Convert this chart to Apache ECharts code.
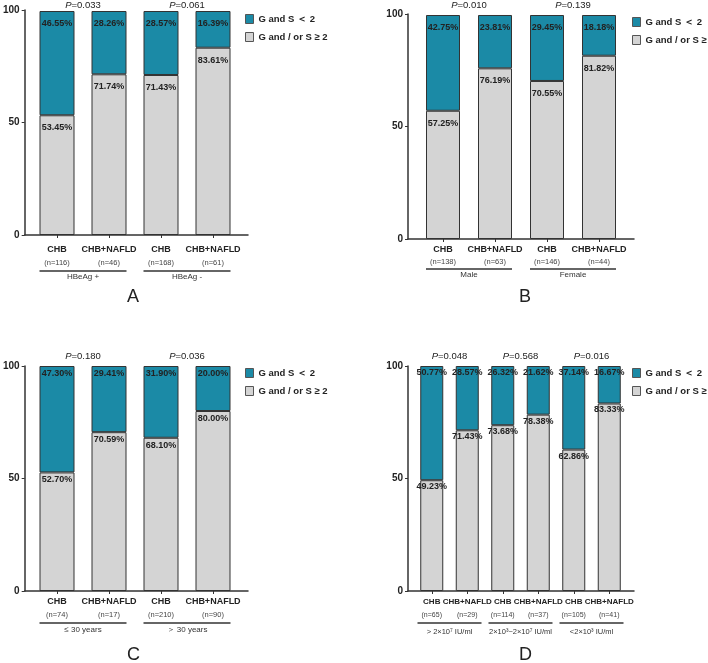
<!DOCTYPE html>
<html>
<head>
<meta charset="utf-8">
<script src="https://cdn.jsdelivr.net/npm/echarts@6/dist/echarts.min.js"></script>
<style>
  * { margin: 0; padding: 0; }
  body { background: #fff; }
</style>
</head>
<body>
<div id="main" style="width: 708px;height: 663px;"></div>
<script>
const tealName = "G and S ＜ 2";
const grayName = "G and / or S ≥ 2";

// A: HBeAg
const catsA = ["CHB", "CHB+NAFLD", "CHB", "CHB+NAFLD"];
const nA = ["(n=116)", "(n=46)", "(n=168)", "(n=61)"];
const lowA = [46.55, 28.26, 28.57, 16.39];
const highA = [53.45, 71.74, 71.43, 83.61];
const groupsA = ["HBeAg +", "HBeAg -"];
const pA = ["0.033", "0.061"];

// B: sex
const catsB = ["CHB", "CHB+NAFLD", "CHB", "CHB+NAFLD"];
const nB = ["(n=138)", "(n=63)", "(n=146)", "(n=44)"];
const lowB = [42.75, 23.81, 29.45, 18.18];
const highB = [57.25, 76.19, 70.55, 81.82];
const groupsB = ["Male", "Female"];
const pB = ["0.010", "0.139"];

// C: age
const catsC = ["CHB", "CHB+NAFLD", "CHB", "CHB+NAFLD"];
const nC = ["(n=74)", "(n=17)", "(n=210)", "(n=90)"];
const lowC = [47.30, 29.41, 31.90, 20.00];
const highC = [52.70, 70.59, 68.10, 80.00];
const groupsC = ["≤ 30 years", "＞ 30 years"];
const pC = ["0.180", "0.036"];

// D: HBV DNA
const catsD = ["CHB", "CHB+NAFLD", "CHB", "CHB+NAFLD", "CHB", "CHB+NAFLD"];
const nD = ["(n=65)", "(n=29)", "(n=114)", "(n=37)", "(n=105)", "(n=41)"];
const lowD = [50.77, 28.57, 26.32, 21.62, 37.14, 16.67];
const highD = [49.23, 71.43, 73.68, 78.38, 62.86, 83.33];
const groupsD = ["> 2×10⁷ IU/ml", "2×10³~2×10⁷ IU/ml", "<2×10³ IU/ml"];
const pD = ["0.048", "0.568", "0.016"];

const panels = [
  { cats: catsA, n: nA, low: lowA, high: highA, groups: groupsA, p: pA, letter: "A" },
  { cats: catsB, n: nB, low: lowB, high: highB, groups: groupsB, p: pB, letter: "B" },
  { cats: catsC, n: nC, low: lowC, high: highC, groups: groupsC, p: pC, letter: "C" },
  { cats: catsD, n: nD, low: lowD, high: highD, groups: groupsD, p: pD, letter: "D" }
];

// placement of each panel
const layouts = [
  { x: 22, y: 10, bx: 31, bw: 208, barW: 35, cFont: 9, nFont: 7.5, gFont: 8, m: 9, l2: 14, dU: 35, l3: 10, uW: 87, pM: 1, dist: 8, legX: 245, legY: 14, letX: 127, letY: 288 },
  { x: 408, y: 14, bx: 417, bw: 208, barW: 34, cFont: 9, nFont: 7.5, gFont: 8, m: 5, l2: 12, dU: 29, l3: 10, uW: 86, pM: 5, dist: 8, legX: 632, legY: 17, letX: 519, letY: 288 },
  { x: 22, y: 366, bx: 31, bw: 208, barW: 35, cFont: 9, nFont: 7.5, gFont: 8, m: 5, l2: 14, dU: 31, l3: 12, uW: 87, pM: 5, dist: 3, legX: 245, legY: 368, letX: 127, letY: 646 },
  { x: 408, y: 366, bx: 414, bw: 213, barW: 23, cFont: 8, nFont: 7, gFont: 7.5, m: 5, l2: 14, dU: 31, l3: 16, uW: 64, pM: 5, dist: 2, legX: 632, legY: 368, letX: 519, letY: 646 }
];

const teal = "#1b8aa6";
const gray = "#d4d4d4";
const axisColor = "#333";

let grid = [], xAxis = [], yAxis = [], series = [], legend = [], title = [];

panels.forEach(function(pd, k) {
  const L = layouts[k];
  // frame grid (axis lines), bar grid (bars and labels)
  grid.push({ left: L.x, top: L.y, width: 226, height: 225 });
  grid.push({ left: L.bx, top: L.y, width: L.bw, height: 225 });

  xAxis.push({
    gridIndex: 2 * k, type: "value", min: 0, max: 1,
    axisLine: { show: true, onZero: false, lineStyle: { color: axisColor, width: 1.5 } },
    axisTick: { show: false }, axisLabel: { show: false }, splitLine: { show: false }
  });
  xAxis.push({
    gridIndex: 2 * k + 1, type: "category", data: pd.cats,
    axisLine: { show: false },
    axisTick: { show: true, alignWithLabel: true, length: 3, lineStyle: { color: axisColor, width: 1 } },
    axisLabel: {
      interval: 0, margin: L.m,
      formatter: function(v, i) { return "{c|" + v + "}\n{n|" + pd.n[i] + "}"; },
      rich: {
        c: { fontSize: L.cFont, fontWeight: "bold", lineHeight: 12, color: "#222" },
        n: { fontSize: L.nFont, lineHeight: L.l2, color: "#444" }
      }
    }
  });
  xAxis.push({
    gridIndex: 2 * k + 1, type: "category", position: "bottom", data: pd.groups,
    axisLine: { show: false }, axisTick: { show: false }, splitLine: { show: false },
    axisLabel: {
      interval: 0, margin: L.dU,
      formatter: function(v) { return "{u| }\n{g|" + v + "}"; },
      rich: {
        u: { width: L.uW, height: 1.5, lineHeight: 2, fontSize: 1, backgroundColor: axisColor },
        g: { fontSize: L.gFont, lineHeight: L.l3, color: "#333" }
      }
    }
  });
  xAxis.push({
    gridIndex: 2 * k + 1, type: "category", position: "top", data: pd.p,
    axisLine: { show: false }, axisTick: { show: false }, splitLine: { show: false },
    axisLabel: {
      interval: 0, margin: L.pM,
      formatter: function(v) { return "{i|P}{t|=" + v + "}"; },
      rich: {
        i: { fontStyle: "italic", fontSize: 9.5, color: "#222" },
        t: { fontSize: 9.5, color: "#222" }
      }
    }
  });

  yAxis.push({
    gridIndex: 2 * k, type: "value", min: 0, max: 100, interval: 50,
    axisLine: { show: true, lineStyle: { color: axisColor, width: 1.5 } },
    axisTick: { show: true, length: 3, lineStyle: { color: axisColor, width: 1 } },
    axisLabel: { fontSize: 10, fontWeight: "bold", color: "#222", margin: 5 },
    splitLine: { show: false }
  });
  yAxis.push({ gridIndex: 2 * k + 1, type: "value", min: 0, max: 100, show: false });

  const lbl = {
    show: true, position: "insideTop", distance: L.dist,
    formatter: function(p) { return p.value.toFixed(2) + "%"; },
    fontSize: 9, fontWeight: "bold", color: "#222"
  };
  series.push({
    name: grayName, type: "bar", stack: "s" + k,
    xAxisIndex: 4 * k + 1, yAxisIndex: 2 * k + 1,
    barWidth: L.barW, data: pd.high,
    itemStyle: { color: gray, borderColor: axisColor, borderWidth: 1 },
    label: lbl
  });
  series.push({
    name: tealName, type: "bar", stack: "s" + k,
    xAxisIndex: 4 * k + 1, yAxisIndex: 2 * k + 1,
    barWidth: L.barW, data: pd.low,
    itemStyle: { color: teal, borderColor: axisColor, borderWidth: 1 },
    label: lbl
  });

  legend.push({
    data: [tealName, grayName], orient: "vertical", left: L.legX, top: L.legY,
    icon: "rect", itemWidth: 8, itemHeight: 9, itemGap: 8, itemTextGap: 4, padding: 0,
    itemStyle: { borderColor: "#555", borderWidth: 1 },
    textStyle: { fontSize: 9.5, fontWeight: "bold", color: "#222" }
  });

  title.push({
    text: pd.letter, left: L.letX, top: L.letY, padding: 0,
    textStyle: { fontSize: 18, fontWeight: "normal", color: "#222" }
  });
});

const chart = echarts.init(document.getElementById("main"));
chart.setOption({
  animation: false,
  textStyle: { fontFamily: "Liberation Sans, Arial, sans-serif" },
  title: title,
  legend: legend,
  grid: grid,
  xAxis: xAxis,
  yAxis: yAxis,
  series: series
});
</script>
</body>
</html>
